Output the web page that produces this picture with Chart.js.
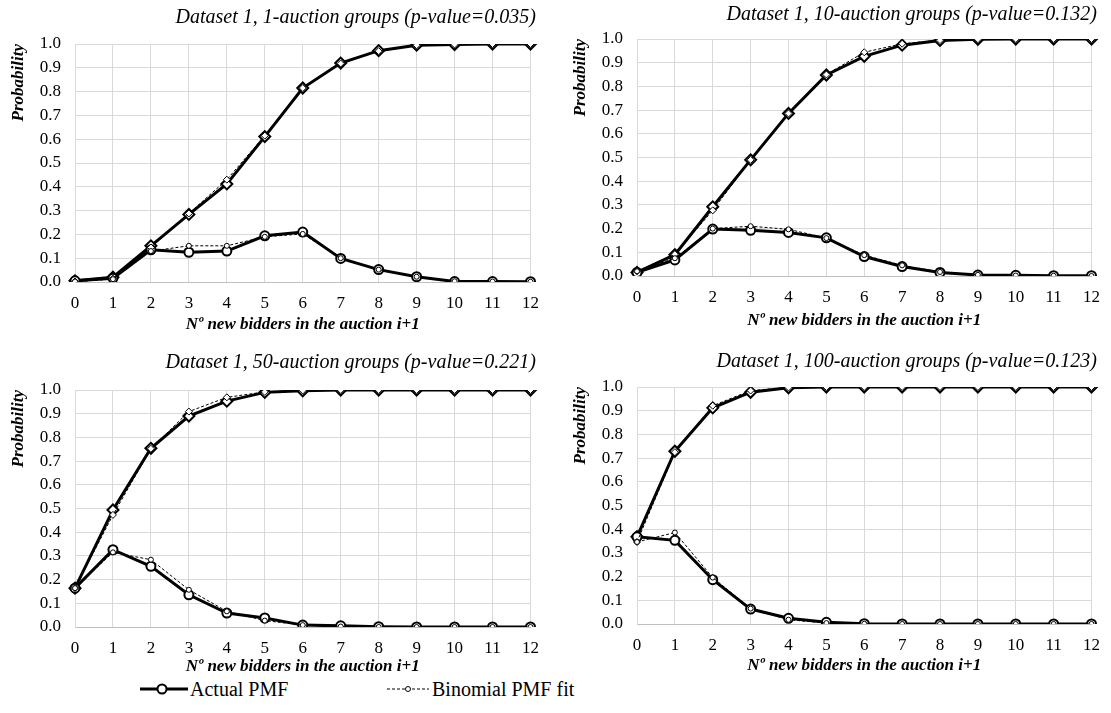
<!DOCTYPE html>
<html>
<head>
<meta charset="utf-8">
<script src="https://cdn.jsdelivr.net/npm/chart.js@4.4.1/dist/chart.umd.min.js"></script>
<style>
  body { margin: 0; background: #fff; width: 1111px; height: 713px; position: relative; overflow: hidden;
         font-family: "Liberation Serif", "Times New Roman", serif; }
  canvas { position: absolute; }
  .leg { position: absolute; top: 677px; height: 24px; line-height: 24px; font-size: 20px; color: #000; white-space: nowrap; }
  .leg svg { position: absolute; top: 6px; }
</style>
</head>
<body>
<div class="leg" style="left:140px">
  <svg width="48" height="12"><line x1="0" y1="6" x2="48" y2="6" stroke="#000" stroke-width="3"/><circle cx="22" cy="6" r="4.5" fill="#fff" stroke="#000" stroke-width="2"/></svg>
  <span style="position:absolute;left:50px">Actual PMF</span>
</div>
<div class="leg" style="left:387px">
  <svg width="42" height="12"><line x1="0" y1="6" x2="42" y2="6" stroke="#000" stroke-width="1" stroke-dasharray="3,2"/><circle cx="21" cy="6" r="2.5" fill="#fff" stroke="#000" stroke-width="1"/></svg>
  <span style="position:absolute;left:45px">Binomial PMF fit</span>
</div>
<script>
// ── data ─────────────────────────────────────────────────
const bidders = ["0", "1", "2", "3", "4", "5", "6", "7", "8", "9", "10", "11", "12"];

const actualPmf1 = [0.005, 0.016, 0.135, 0.125, 0.130, 0.194, 0.210, 0.099, 0.052, 0.022, 0.002, 0.002, 0.001];
const actualCdf1 = [0.005, 0.020, 0.152, 0.284, 0.412, 0.611, 0.815, 0.920, 0.972, 0.995, 0.998, 1.000, 1.000];
const binomPmf1 = [0.002, 0.012, 0.130, 0.152, 0.152, 0.190, 0.202, 0.100, 0.052, 0.022, 0.003, 0.002, 0.001];
const binomCdf1 = [0.002, 0.014, 0.145, 0.288, 0.430, 0.615, 0.815, 0.918, 0.970, 0.995, 0.998, 1.000, 1.000];

const actualPmf10 = [0.015, 0.068, 0.198, 0.193, 0.184, 0.161, 0.082, 0.040, 0.015, 0.004, 0.003, 0.001, 0.001];
const actualCdf10 = [0.015, 0.090, 0.292, 0.490, 0.686, 0.848, 0.927, 0.974, 0.994, 0.999, 1.000, 1.000, 1.000];
const binomPmf10 = [0.020, 0.075, 0.200, 0.210, 0.197, 0.160, 0.088, 0.045, 0.017, 0.005, 0.002, 0.001, 0.000];
const binomCdf10 = [0.020, 0.092, 0.277, 0.490, 0.686, 0.850, 0.944, 0.980, 0.995, 0.999, 1.000, 1.000, 1.000];

const actualPmf50 = [0.164, 0.326, 0.256, 0.136, 0.059, 0.038, 0.008, 0.005, 0.001, 0.000, 0.000, 0.000, 0.000];
const actualCdf50 = [0.164, 0.494, 0.754, 0.890, 0.953, 0.990, 0.997, 1.000, 1.000, 1.000, 1.000, 1.000, 1.000];
const binomPmf50 = [0.164, 0.315, 0.284, 0.157, 0.066, 0.027, 0.008, 0.002, 0.000, 0.000, 0.000, 0.000, 0.000];
const binomCdf50 = [0.164, 0.473, 0.752, 0.909, 0.969, 0.992, 0.998, 1.000, 1.000, 1.000, 1.000, 1.000, 1.000];

const actualPmf100 = [0.368, 0.353, 0.187, 0.063, 0.024, 0.007, 0.001, 0.000, 0.000, 0.000, 0.000, 0.000, 0.000];
const actualCdf100 = [0.368, 0.729, 0.912, 0.978, 0.997, 1.000, 1.000, 1.000, 1.000, 1.000, 1.000, 1.000, 1.000];
const binomPmf100 = [0.346, 0.386, 0.196, 0.065, 0.018, 0.004, 0.001, 0.000, 0.000, 0.000, 0.000, 0.000, 0.000];
const binomCdf100 = [0.346, 0.725, 0.921, 0.985, 0.998, 1.000, 1.000, 1.000, 1.000, 1.000, 1.000, 1.000, 1.000];

const FONT = '"Liberation Serif", "Times New Roman", serif';
const Y_AXIS_W = 70;
const X_AXIS_H = 56;

function lineSet(data, thick, style) {
  return {
    data,
    borderColor: "#000",
    borderWidth: thick ? 3 : 1,
    borderDash: thick ? [] : [3, 2],
    pointStyle: style,
    pointRadius: thick ? (style === "rectRot" ? 5.5 : 4.5) : (style === "rectRot" ? 3.5 : 2.5),
    pointBorderWidth: thick ? 2 : 1,
    pointBackgroundColor: "#fff",
    pointBorderColor: "#000",
    tension: 0,
    fill: false,
  };
}

// p: target plot area (global px), title / x-title centre lines, canvas top
function makePanel(p, pmfA, cdfA, pmfB, cdfB) {
  const ox = p.areaL - Y_AXIS_W;
  const padR = 14;
  const w = p.areaR - ox + padR;
  const h = p.areaB - p.top + X_AXIS_H;
  const tTop = p.titleY - p.top - 12;
  const tBottom = p.areaT - p.top - tTop - 24;
  const xtBottom = p.areaB + X_AXIS_H - p.xTitleY - 10.2;

  const cv = document.createElement("canvas");
  cv.width = w; cv.height = h;
  cv.style.left = ox + "px"; cv.style.top = p.top + "px";
  document.body.appendChild(cv);

  new Chart(cv, {
    type: "line",
    data: {
      labels: bidders,
      datasets: [
        lineSet(pmfB, false, "circle"),
        lineSet(cdfB, false, "rectRot"),
        lineSet(pmfA, true, "circle"),
        lineSet(cdfA, true, "rectRot"),
      ],
    },
    options: {
      responsive: false,
      animation: false,
      devicePixelRatio: 1,
      layout: { padding: { left: 0, right: padR, top: 0, bottom: 0 } },
      plugins: {
        legend: { display: false },
        tooltip: { enabled: false },
        title: {
          display: true,
          text: p.title,
          align: "end",
          color: "#000",
          font: { family: FONT, size: 20, style: "italic", weight: "normal", lineHeight: 1.2 },
          padding: { top: tTop, bottom: tBottom },
        },
      },
      scales: {
        x: {
          grid: { color: "#d9d9d9", drawTicks: false },
          border: { color: "#bfbfbf" },
          ticks: { color: "#000", padding: 11, maxRotation: 0, autoSkip: false,
                   font: { family: FONT, size: 17 } },
          title: { display: true, text: "Nº new bidders in the auction i+1", color: "#000",
                   font: { family: FONT, size: 17, weight: "bold", style: "italic" },
                   padding: { top: 0, bottom: xtBottom } },
          afterFit: (s) => { s.height = X_AXIS_H; },
        },
        y: {
          min: 0, max: 1,
          grid: { color: "#d9d9d9", drawTicks: false },
          border: { color: "#d9d9d9" },
          ticks: { stepSize: 0.1, color: "#000", padding: 14,
                   font: { family: FONT, size: 17 },
                   callback: (v) => Number(v).toFixed(1) },
          title: { display: true, text: "Probability", align: "end", color: "#000",
                   font: { family: FONT, size: 17, weight: "bold", style: "italic" },
                   padding: { top: 3, bottom: 0 } },
          afterFit: (s) => { s.width = Y_AXIS_W; },
        },
      },
    },
  });
}

makePanel({ title: "Dataset 1, 1-auction groups (p-value=0.035)", top: 0,
  areaL: 75, areaR: 536, areaT: 44, areaB: 282, titleY: 18, xTitleY: 325 },
  actualPmf1, actualCdf1, binomPmf1, binomCdf1);
makePanel({ title: "Dataset 1, 10-auction groups (p-value=0.132)", top: 0,
  areaL: 637, areaR: 1097, areaT: 39, areaB: 276, titleY: 15, xTitleY: 321 },
  actualPmf10, actualCdf10, binomPmf10, binomCdf10);
makePanel({ title: "Dataset 1, 50-auction groups (p-value=0.221)", top: 340,
  areaL: 75, areaR: 536, areaT: 390, areaB: 627, titleY: 363, xTitleY: 667 },
  actualPmf50, actualCdf50, binomPmf50, binomCdf50);
makePanel({ title: "Dataset 1, 100-auction groups (p-value=0.123)", top: 340,
  areaL: 637, areaR: 1097, areaT: 387, areaB: 624, titleY: 362, xTitleY: 666 },
  actualPmf100, actualCdf100, binomPmf100, binomCdf100);
</script>
</body>
</html>
